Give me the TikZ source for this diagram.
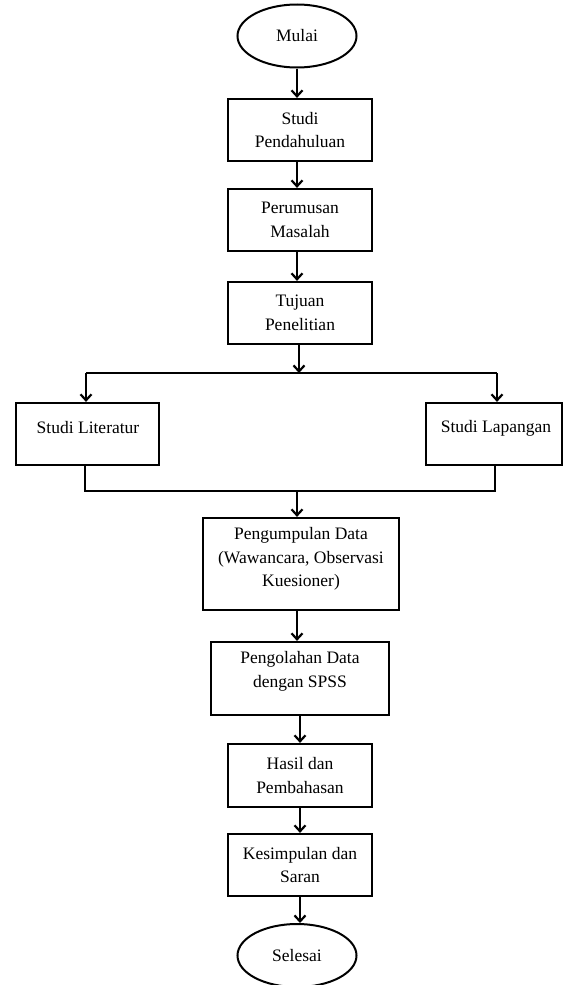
\documentclass[tikz,border=0pt]{standalone}
\usepackage{fontspec}
\setmainfont{Liberation Serif}
\usetikzlibrary{shapes.geometric,arrows.meta,calc}
\begin{document}
\begin{tikzpicture}[x=1pt,y=-1pt,
  every node/.style={font=\fontsize{17.5}{23.5}\selectfont, inner sep=0pt},
  box/.style={draw, line width=2.2pt, rectangle, align=center},
  term/.style={draw, line width=2pt, ellipse, minimum width=119pt, minimum height=63pt},
  conn/.style={line width=2.2pt},
  arr/.style={line width=2.2pt, -{Straight Barb[length=6pt,width=11pt,line width=2.2pt]}}
]
\useasboundingbox (0,0) rectangle (564,985);

\node[term] (mulai) at (297,36) {Mulai};
\node[box, minimum width=144pt, minimum height=62pt] (sp) at (300,130) {Studi\\Pendahuluan};
\node[box, minimum width=144pt, minimum height=62pt] (pm) at (300,220) {Perumusan\\Masalah};
\node[box, minimum width=144pt, minimum height=62pt] (tp) at (300,313) {Tujuan\\Penelitian};

\node[box, minimum width=143pt, minimum height=62pt] (sl) at (87.5,434) {};
\node (slt) at (88,428) {Studi Literatur};
\node[box, minimum width=136pt, minimum height=62pt] (sla) at (494,434) {};
\node (slat) at (496,428) {Studi Lapangan};

\node[box, minimum width=196pt, minimum height=92pt] (pd) at (301,564) {};
\node[align=center] (pdt) at (301,559) {Pengumpulan Data\\(Wawancara, Observasi\\Kuesioner)};
\node[box, minimum width=178pt, minimum height=73pt] (pg) at (300,678.5) {};
\node[align=center] (pgt) at (300,671.5) {Pengolahan Data\\dengan SPSS};
\node[box, minimum width=144pt, minimum height=63pt] (hs) at (300,775.5) {Hasil dan\\Pembahasan};
\node[box, minimum width=144pt, minimum height=62pt] (ks) at (300,865) {Kesimpulan dan\\Saran};
\node[term] (sel) at (297,955.5) {Selesai};

\coordinate (bc) at (299,373);
\coordinate (bl) at (86,373);
\coordinate (brr) at (497,373);
\coordinate (ml) at (85,491);
\coordinate (mr) at (495,491);
\coordinate (mc) at (297,491);

\draw[arr] (mulai.south) -- (mulai.south |- sp.north);
\draw[arr] ([xshift=-3pt]sp.south) -- ([xshift=-3pt]pm.north);
\draw[arr] ([xshift=-3pt]pm.south) -- ([xshift=-3pt]tp.north);
\draw[arr] (tp.south -| bc) -- (bc);
\draw[conn] (bl) -- (brr);
\draw[arr] (bl) -- (bl |- sl.north);
\draw[arr] (brr) -- (brr |- sla.north);
\draw[conn] (ml |- sl.south) -- (ml) -- (mr) -- (mr |- sla.south);
\draw[arr] (mc) -- (mc |- pd.north);
\draw[arr] (pd.south -| mc) -- (mc |- pg.north);
\draw[arr] (pg.south) -- (hs.north);
\draw[arr] (hs.south) -- (ks.north);
\draw[arr] (ks.south) -- (ks.south |- sel.north);
\end{tikzpicture}
\end{document}
